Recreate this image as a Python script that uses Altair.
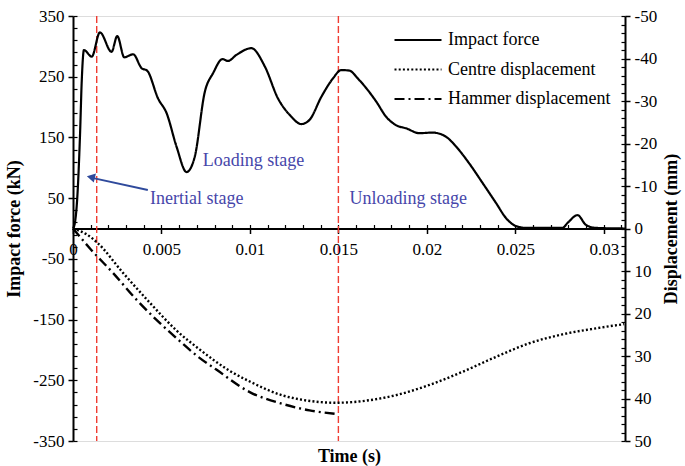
import altair as alt
import pandas as pd

# ---- data -------------------------------------------------------------
series_names = ["Impact force", "Centre displacement", "Hammer displacement"]

# impact force history: time (s) and force (kN)
force_time = [0, 0.00011, 0.00024, 0.0004, 0.00049, 0.00062, 0.00106, 0.00152,
              0.00218, 0.0025, 0.0029, 0.0034, 0.00388, 0.00419, 0.00481,
              0.00529, 0.00585, 0.00642, 0.00688, 0.00745, 0.00792, 0.00845,
              0.00876, 0.00924, 0.01008, 0.01084, 0.01159, 0.01225, 0.01291,
              0.01337, 0.01404, 0.01469, 0.01516, 0.01563, 0.0161, 0.01666,
              0.01714, 0.0177, 0.01827, 0.01883, 0.01958, 0.02033, 0.02109,
              0.02165, 0.0224, 0.02315, 0.02391, 0.02448, 0.02504, 0.0256,
              0.02767, 0.02795, 0.02852, 0.02899, 0.02955, 0.0312]
force_kn = [0, 10, 50, 157, 240, 294, 283, 323, 291, 317, 282, 287, 264, 260,
            214, 190, 135, 93, 118, 225, 256, 279, 276, 286, 297, 267, 214,
            187, 172, 179, 217, 247, 261, 260, 247, 228, 209, 184, 170, 165,
            157, 158, 151, 135, 107, 75, 42, 17, 4, 1, 1, 9, 22, 6, 1, 0]

# mid-span (centre) displacement, mm (positive = downward)
centre_time = [0, 0.0007, 0.00134, 0.00284, 0.00435, 0.00585, 0.00717, 0.00886,
               0.00999, 0.01187, 0.01281, 0.01488, 0.01676, 0.01827, 0.02015,
               0.02203, 0.02391, 0.02579, 0.02767, 0.02955, 0.03115]
centre_mm = [0, 1.2, 3.2, 10.5, 17.5, 24.0, 28.5, 33.5, 36.0, 39.3, 40.2,
             41.0, 40.4, 39.2, 36.8, 33.7, 30.2, 27.0, 24.9, 23.5, 22.5]

# drop-hammer displacement, mm
hammer_time = [0, 0.00096, 0.00227, 0.0036, 0.00472, 0.00585, 0.00717, 0.0081,
               0.00999, 0.01187, 0.01337, 0.0148]
hammer_mm = [0, 4.7, 10.5, 16.8, 21.5, 25.8, 30.5, 33.2, 38.5, 41.3, 42.8, 43.6]

# stage boundaries and stage labels
stage_time = [0.00134, 0.0150]
stage_labels = ["Loading stage", "Inertial stage", "Unloading stage"]
stage_label_time = [0.00734, 0.00435, 0.01563]
stage_label_force = [111, 48.6, 48.6]

# arrow pointing to the inertial stage: tail, shaft end and head centre
arrow_tail = [0.00423, 63.4]
arrow_shaft_end = [0.00115, 83.0]
arrow_head = [0.00101, 84.7]

# axis ticks
x_ticks = [0, 0.005, 0.01, 0.015, 0.02, 0.025, 0.03]
x_minor = [round(i * 0.001, 3) for i in range(32)]
force_ticks = list(range(-350, 351, 100))
force_minor = list(range(-350, 351, 20))
disp_ticks = list(range(-50, 51, 10))
disp_minor = list(range(-50, 51, 2))

# ---- styling ----------------------------------------------------------
W, H = 552, 425
ZERO_OFFSET = -H / 2
FONT = "Liberation Serif"
TEXT_BLUE = "#4646aa"
ARROW_BLUE = "#2f4a9c"

force_df = pd.DataFrame({"t": force_time, "v": force_kn, "series": series_names[0]})
disp_df = pd.concat([
    pd.DataFrame({"t": centre_time, "v": centre_mm, "series": series_names[1]}),
    pd.DataFrame({"t": hammer_time, "v": hammer_mm, "series": series_names[2]}),
])
stage_df = pd.DataFrame({"t": stage_time})
label_df = pd.DataFrame({"label": stage_labels, "t": stage_label_time, "v": stage_label_force})
arrow_df = pd.DataFrame({"t": [arrow_tail[0]], "v": [arrow_tail[1]],
                         "t2": [arrow_shaft_end[0]], "v2": [arrow_shaft_end[1]]})
head_df = pd.DataFrame({"t": [arrow_head[0]], "v": [arrow_head[1]]})

x_scale = alt.Scale(domain=[0, 0.0312], nice=False, zero=False)
f_scale = alt.Scale(domain=[-350, 350], nice=False)
d_scale = alt.Scale(domain=[-50, 50], reverse=True, nice=False)
dash_scale = alt.Scale(domain=series_names, range=[[1, 0], [2, 2.2], [10, 4, 2, 4]])

legend = alt.Legend(
    title=None, orient="none", legendX=320, legendY=15, padding=0,
    symbolType="stroke", symbolSize=2209, symbolStrokeWidth=2.2,
    symbolStrokeColor="black", clipHeight=18, rowPadding=11.5,
    labelFont=FONT, labelFontSize=18, labelColor="black", labelOffset=5,
    labelLimit=400,
)

tick_common = dict(grid=False, tickColor="black", labelColor="black",
                   labelFont=FONT, titleFont=FONT, titleColor="black")

# plain hyphen-minus for negative tick labels
plain_label = "'' + datum.value"

x_main_axis = alt.Axis(
    orient="bottom", offset=ZERO_OFFSET, values=x_ticks, title=None,
    labelExpr="datum.value == 0 ? '0' : format(datum.value, '.3~f')",
    tickSize=5, tickWidth=1.5, domainColor="black", domainWidth=2,
    labelFontSize=17, labelPadding=8, labelFlush=False, labelOverlap=False,
    labelBound=False, **tick_common)
x_minor_axis = alt.Axis(
    orient="top", offset=ZERO_OFFSET, values=x_minor, title=None, labels=False,
    domain=False, tickSize=4, tickWidth=1.2, **tick_common)
x_title_axis = alt.Axis(
    orient="bottom", title="Time (s)", labels=False, ticks=False, domain=False,
    titleFontSize=18, titleFontWeight="bold", titlePadding=6, **tick_common)

f_axis = alt.Axis(
    orient="left", values=force_ticks, title="Impact force (kN)",
    labelExpr=plain_label,
    tickSize=5, tickWidth=1.5, domainColor="black", domainWidth=2,
    labelFontSize=17, labelPadding=4, labelFlush=False, labelOverlap=False,
    titleFontSize=18, titleFontWeight="bold", titlePadding=9, **tick_common)
f_minor_axis = alt.Axis(
    orient="right", offset=-W, values=force_minor, title=None, labels=False,
    domain=False, tickSize=4, tickWidth=1.2, **tick_common)

d_axis = alt.Axis(
    orient="right", values=disp_ticks, title="Displacement (mm)",
    labelExpr=plain_label,
    tickSize=5, tickWidth=1.5, domainColor="black", domainWidth=2,
    labelFontSize=17, labelPadding=4, labelFlush=False, labelOverlap=False,
    titleFontSize=18, titleFontWeight="bold", titlePadding=6,
    titleAngle=270, titleBaseline="top", **tick_common)
d_minor_axis = alt.Axis(
    orient="left", offset=-W, values=disp_minor, title=None, labels=False,
    domain=False, tickSize=4, tickWidth=1.2, **tick_common)

# ---- layers -----------------------------------------------------------
force_line = alt.Chart(force_df).mark_line(
    color="black", strokeWidth=2.2, interpolate="monotone"
).encode(
    x=alt.X("t:Q", scale=x_scale, axis=x_main_axis),
    y=alt.Y("v:Q", scale=f_scale, axis=f_axis),
    strokeDash=alt.StrokeDash("series:N", scale=dash_scale, legend=legend),
)

disp_lines = alt.Chart(disp_df).mark_line(
    color="black", strokeWidth=2.4, interpolate="monotone"
).encode(
    x=alt.X("t:Q", scale=x_scale, axis=x_title_axis),
    y=alt.Y("v:Q", scale=d_scale, axis=d_axis),
    strokeDash=alt.StrokeDash("series:N", scale=dash_scale, legend=legend),
    detail="series:N",
)

force_minor_ticks = alt.Chart(force_df).mark_line(opacity=0).encode(
    x=alt.X("t:Q", scale=x_scale, axis=x_minor_axis),
    y=alt.Y("v:Q", scale=f_scale, axis=f_minor_axis),
)

disp_minor_ticks = alt.Chart(disp_df).mark_line(opacity=0).encode(
    x=alt.X("t:Q", scale=x_scale, axis=None),
    y=alt.Y("v:Q", scale=d_scale, axis=d_minor_axis),
    detail="series:N",
)

stage_rules = alt.Chart(stage_df).mark_rule(
    color="#f03c32", strokeWidth=1.4, strokeDash=[7, 3]
).encode(
    x=alt.X("t:Q", scale=x_scale, axis=None),
    y=alt.value(0), y2=alt.value(H),
)

stage_text = alt.Chart(label_df).mark_text(
    align="left", baseline="middle", font=FONT, fontSize=18, color=TEXT_BLUE
).encode(
    x=alt.X("t:Q", scale=x_scale, axis=None),
    y=alt.Y("v:Q", scale=f_scale, axis=None),
    text="label:N",
)

arrow_shaft = alt.Chart(arrow_df).mark_rule(color=ARROW_BLUE, strokeWidth=2).encode(
    x=alt.X("t:Q", scale=x_scale, axis=None),
    y=alt.Y("v:Q", scale=f_scale, axis=None),
    x2="t2:Q", y2="v2:Q",
)

arrow_tip = alt.Chart(head_df).mark_point(
    shape="triangle-up", filled=True, size=90, angle=283, color=ARROW_BLUE, opacity=1
).encode(
    x=alt.X("t:Q", scale=x_scale, axis=None),
    y=alt.Y("v:Q", scale=f_scale, axis=None),
)

chart = alt.layer(
    force_minor_ticks, disp_minor_ticks, stage_rules, disp_lines, force_line,
    stage_text, arrow_shaft, arrow_tip,
).resolve_scale(
    y="independent", strokeDash="shared"
).resolve_axis(
    x="independent", y="independent"
).properties(
    width=W, height=H,
    autosize=alt.AutoSizeParams(type="none"),
    padding={"left": 73, "top": 16, "right": 60, "bottom": 25},
).configure_view(
    stroke="#6e6e6e", strokeWidth=1.2
).configure(
    font=FONT, background="white"
)

chart.save("out.html", embed_options={"renderer": "svg", "actions": False})
